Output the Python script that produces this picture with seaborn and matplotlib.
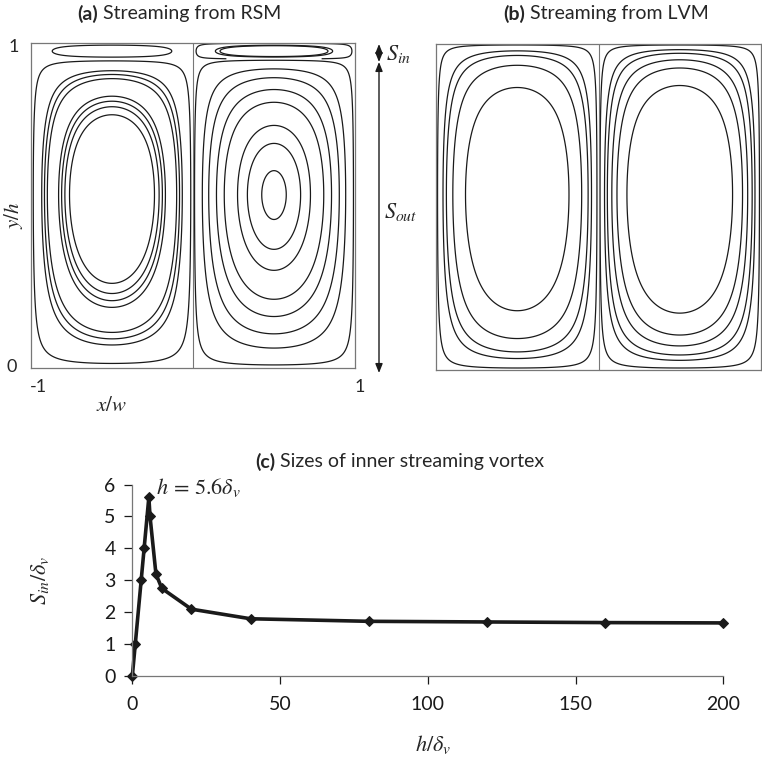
import numpy as np
import matplotlib
matplotlib.use("Agg")
import matplotlib.pyplot as plt
import seaborn as sns
import pandas as pd

# ---------------- data ----------------
# panel (c): size of inner streaming vortex vs h/delta_v
h_over_delta = [0, 1, 3, 4, 5.6, 6, 8, 10, 20, 40, 80, 120, 160, 200]
s_in_over_delta = [0, 1, 3, 4, 5.6, 5.0, 3.2, 2.75, 2.1, 1.8, 1.72, 1.7, 1.68, 1.67]
x_ticks_c = [0, 50, 100, 150, 200]
y_ticks_c = [0, 1, 2, 3, 4, 5, 6]

# panels (a), (b): streamline levels (normalised stream-function values)
rsm_left_levels = [0.02, 0.139, 0.184, 0.233, 0.431, 0.484, 0.540, 0.617]
rsm_right_levels = [0.0125, 0.117, 0.222, 0.358, 0.495, 0.710, 0.840, 0.965]
rsm_inner_left_levels = [0.40]
rsm_inner_right_levels = [0.06, 0.42, 0.50]
lvm_left_levels = [0.0105, 0.074, 0.123, 0.227, 0.449]
lvm_right_levels = [0.0105, 0.061, 0.10, 0.169, 0.255, 0.43]
s_in_fraction = 0.05          # inner vortex thickness S_in/h in panel (a)
cell_center_skew = [1.2, 1.12]  # vertical skew of cell centres (a), (b)
x_shape_exp = 1.25

# ---------------- style ----------------
sns.set_theme(style="white")
plt.rcParams['font.family'] = ['Lato', 'DejaVu Sans']
plt.rcParams['mathtext.fontset'] = 'stix'

W, H = 762, 760
fig = plt.figure(figsize=(W / 100, H / 100), dpi=100)


def fax(l, t, r, b):
    return fig.add_axes([l / W, 1 - b / H, (r - l) / W, (b - t) / H])


ax_a = fax(31, 43, 355, 368)
ax_b = fax(436, 44, 761, 370)
ax_c = fax(132.3, 484.5, 723.3, 676.3)

x = np.linspace(-1, 1, 600)
y = np.linspace(0, 1, 600)
X, Y = np.meshgrid(x, y)


def cell(x0, x1, y0, y1, skew, p):
    tx = (X - x0) / (x1 - x0)
    ty = (Y - y0) / (y1 - y0)
    inside = (tx >= 0) & (tx <= 1) & (ty >= 0) & (ty <= 1)
    txc = np.clip(tx, 0, 1)
    tyc = np.clip(ty, 0, 1) ** skew
    psi = np.sin(np.pi * txc) ** p * np.sin(np.pi * tyc)
    return np.where(inside, psi, np.nan)


lw = 0.9
frame_col = '#777777'

# panel (a)
top = 1 - s_in_fraction
ax_a.contour(X, Y, cell(-1, 0, 0, top, cell_center_skew[0], x_shape_exp),
             levels=rsm_left_levels, colors='k', linewidths=lw)
ax_a.contour(X, Y, cell(0, 1, 0, top, cell_center_skew[0], x_shape_exp),
             levels=rsm_right_levels, colors='k', linewidths=lw)
ax_a.contour(X, Y, cell(-1, 0, top, 1, 1.0, 1.0),
             levels=rsm_inner_left_levels, colors='k', linewidths=lw)
ax_a.contour(X, Y, cell(0, 1, top, 1, 1.0, 1.0),
             levels=rsm_inner_right_levels, colors='k', linewidths=lw)

# panel (b)
ax_b.contour(X, Y, cell(-1, 0, 0, 1, cell_center_skew[1], 1.3),
             levels=lvm_left_levels, colors='k', linewidths=lw)
ax_b.contour(X, Y, cell(0, 1, 0, 1, cell_center_skew[1], 1.3),
             levels=lvm_right_levels, colors='k', linewidths=lw)

for ax in (ax_a, ax_b):
    ax.set_xlim(-1, 1)
    ax.set_ylim(0, 1)
    ax.set_xticks([])
    ax.set_yticks([])
    ax.axvline(0, color=frame_col, lw=0.8)
    for s in ax.spines.values():
        s.set_color(frame_col)
        s.set_linewidth(0.9)
        s.set_visible(True)

# tick-like labels for (a)
tfs = 13
ax_a.text(-0.053, 0.987, "1", transform=ax_a.transAxes, ha='center', va='center', fontsize=tfs)
ax_a.text(-0.060, 0.003, "0", transform=ax_a.transAxes, ha='center', va='center', fontsize=tfs)
ax_a.text(0.022, -0.058, "-1", transform=ax_a.transAxes, ha='center', va='center', fontsize=tfs)
ax_a.text(1.015, -0.058, "1", transform=ax_a.transAxes, ha='center', va='center', fontsize=tfs)
ax_a.text(-0.053, 0.47, "$y/h$", transform=ax_a.transAxes, ha='center', va='center',
          fontsize=15, rotation=90)
ax_a.text(0.25, -0.115, "$x/w$", transform=ax_a.transAxes, ha='center', va='center', fontsize=15)

# S_in / S_out arrows
ax_x = (379 - 31) / 324
def fy(py):
    return (368 - py) / 325
arrow_kw = dict(arrowstyle='<|-|>,head_length=0.45,head_width=0.18', color='k', lw=1.0,
                shrinkA=0, shrinkB=0)
ax_a.annotate('', xy=(ax_x, fy(44)), xytext=(ax_x, fy(62)), xycoords='axes fraction',
              textcoords='axes fraction', arrowprops=arrow_kw, annotation_clip=False)
ax_a.annotate('', xy=(ax_x, fy(62)), xytext=(ax_x, fy(373)), xycoords='axes fraction',
              textcoords='axes fraction', arrowprops=arrow_kw, annotation_clip=False)
ax_a.text((386 - 31) / 324, fy(54), "$S_{in}$", transform=ax_a.transAxes, ha='left',
          va='center', fontsize=16)
ax_a.text((384 - 31) / 324, fy(212), "$S_{out}$", transform=ax_a.transAxes, ha='left',
          va='center', fontsize=16)

# panel (c)
df = pd.DataFrame({'h': h_over_delta, 's': s_in_over_delta})
sns.lineplot(data=df, x='h', y='s', ax=ax_c, color='k', lw=2.6, marker='D',
             markersize=5, markeredgecolor='k', clip_on=False)
ax_c.set_xlim(0, 200)
ax_c.set_ylim(0, 6)
ax_c.set_xticks(x_ticks_c)
ax_c.set_yticks(y_ticks_c)
ax_c.tick_params(axis='both', labelsize=14, colors='k', length=6, width=0.9,
                 direction='out', left=True, bottom=True)
ax_c.tick_params(axis='x', pad=8)
ax_c.tick_params(axis='y', pad=6)
for sp in ('top', 'right'):
    ax_c.spines[sp].set_visible(False)
for sp in ('left', 'bottom'):
    ax_c.spines[sp].set_color(frame_col)
    ax_c.spines[sp].set_linewidth(0.9)
for t in ax_c.xaxis.get_ticklines() + ax_c.yaxis.get_ticklines():
    t.set_color(frame_col)
ax_c.set_xlabel("")
ax_c.set_ylabel("")
fig.text(433 / W, 1 - 745 / H, r"$h/\delta_v$", ha='center', va='center', fontsize=16)
fig.text(40 / W, 1 - 580 / H, r"$S_{in}/\delta_v$", ha='center', va='center',
         fontsize=16, rotation=90)
ax_c.annotate(r"$h\,=\,5.6\delta_v$", xy=(5.6, 5.6), xytext=(8, 5.9),
              textcoords='data', ha='left', va='center', fontsize=16)

# titles with bold panel letters
renderer = fig.canvas.get_renderer()


def title2(xc, yc, bold, rest, size=14):
    t1 = fig.text(0, 1 - yc / H, bold, weight='bold', fontsize=size, va='center')
    t2 = fig.text(0, 1 - yc / H, rest, fontsize=size, va='center')
    w1 = t1.get_window_extent(renderer).width
    w2 = t2.get_window_extent(renderer).width
    gap = 0.35 * size
    x0 = xc - (w1 + gap + w2) / 2
    t1.set_x(x0 / W)
    t2.set_x((x0 + w1 + gap) / W)


title2(179, 14, "(a)", "Streaming from RSM")
title2(606, 14, "(b)", "Streaming from LVM")
title2(400, 462, "(c)", "Sizes of inner streaming vortex")

fig.savefig("out.png", dpi=100)
